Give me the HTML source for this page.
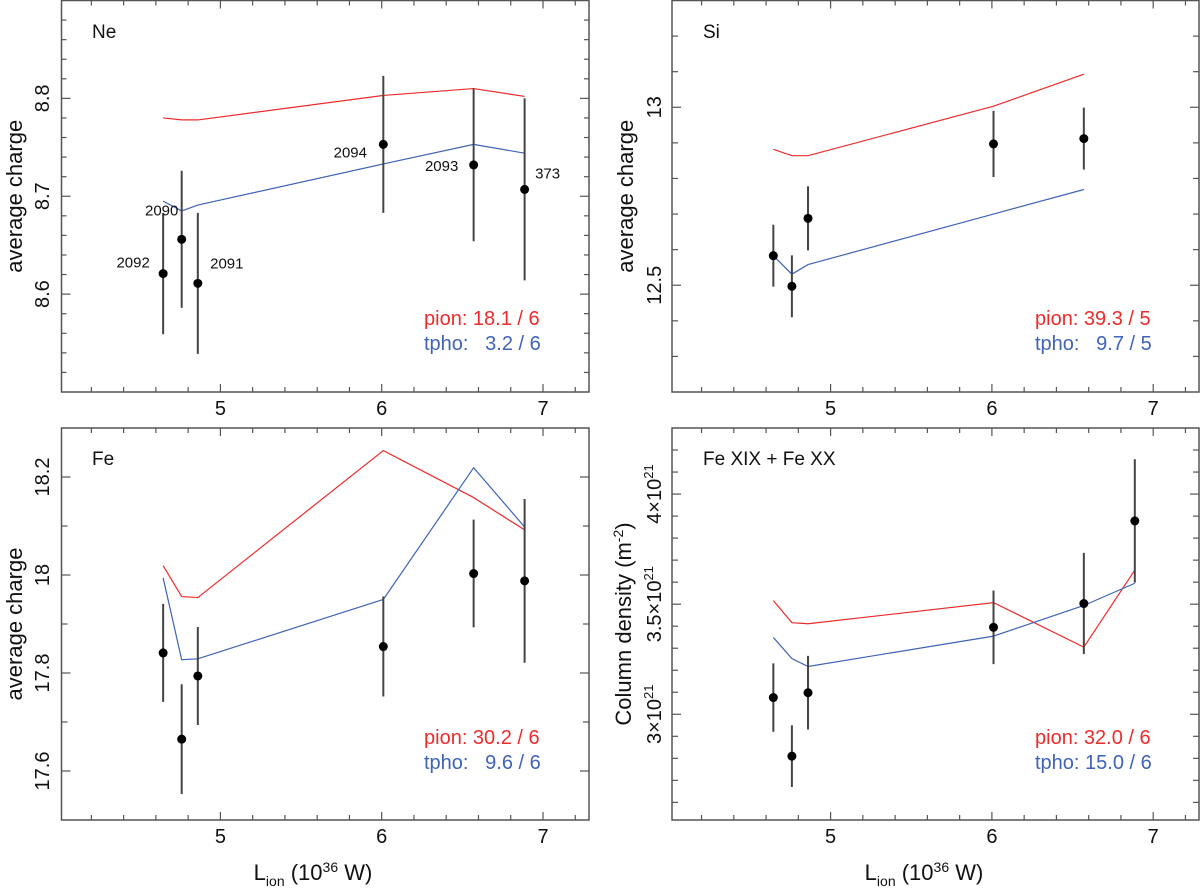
<!DOCTYPE html>
<html><head><meta charset="utf-8"><style>
html,body{margin:0;padding:0;background:#fff;width:1200px;height:891px;overflow:hidden}
svg{display:block;font-family:"Liberation Sans",Arial,sans-serif}
</style></head><body>
<svg id="chart" width="1200" height="891" viewBox="0 0 1200 891"></svg>
<script>
// Shared x data (luminosity, 1e36 W)
const xLum = [4.645, 4.76, 4.86, 6.01, 6.57, 6.886];
const xLumSi = [4.645, 4.76, 4.86, 6.01, 6.57];
const xTickLabels = ["5", "6", "7"];

// Ne
const neObs = [8.621, 8.656, 8.611, 8.753, 8.732, 8.707];
const neErr = [0.062, 0.07, 0.072, 0.07, 0.078, 0.093];
const nePion = [8.780, 8.778, 8.778, 8.803, 8.810, 8.802];
const neTpho = [8.695, 8.685, 8.691, 8.733, 8.753, 8.744];
const neObsIds = ["2092", "2090", "2091", "2094", "2093", "373"];
const neYTicks = ["8.6", "8.7", "8.8"];

// Si
const siObs = [12.583, 12.497, 12.688, 12.897, 12.912];
const siErr = [0.087, 0.087, 0.09, 0.093, 0.087];
const siPion = [12.882, 12.864, 12.864, 13.003, 13.093];
const siTpho = [12.583, 12.531, 12.558, 12.700, 12.769];
const siYTicks = ["12.5", "13"];

// Fe
const feObs = [17.841, 17.665, 17.794, 17.854, 18.003, 17.988];
const feErr = [0.1, 0.112, 0.1, 0.102, 0.11, 0.167];
const fePion = [18.019, 17.956, 17.954, 18.254, 18.158, 18.092];
const feTpho = [17.994, 17.827, 17.829, 17.950, 18.219, 18.098];
const feYTicks = ["17.6", "17.8", "18", "18.2"];

// Fe XIX + Fe XX column density (1e21 m^-2)
const colObs = [3.076, 2.810, 3.098, 3.395, 3.503, 3.878];
const colErr = [0.155, 0.14, 0.167, 0.167, 0.23, 0.28];
const colPion = [3.516, 3.416, 3.411, 3.507, 3.305, 3.655];
const colTpho = [3.349, 3.253, 3.217, 3.355, 3.494, 3.595];
const colYTicks = ["3", "3.5", "4"];

const NS = "http://www.w3.org/2000/svg";
const svg = document.getElementById("chart");
function mk(tag, attrs, parent) {
  const e = document.createElementNS(NS, tag);
  for (const k in attrs) e.setAttribute(k, attrs[k]);
  (parent || svg).appendChild(e);
  return e;
}

const panels = [
  {key:"ne", L:61.5, R:589, T:0.5, B:392, x5:220.4, ymin:8.5, ymax:8.9, minor:0.02, major:0.1,
   yt:neYTicks, xs:xLum, obs:neObs, err:neErr, pion:nePion, tpho:neTpho, title:"Ne", titleX:92, titleY:38,
   ylab:"average charge", ylabX:14, ytX:42, legY:[325,350], legX:424, p:"pion: 18.1 / 6", t:"tpho:   3.2 / 6", xlabel:false},
  {key:"si", L:672, R:1199, T:0.5, B:392, x5:830.6, ymin:12.2, ymax:13.3, minor:0.1, major:0.1,
   yt:siYTicks, xs:xLumSi, obs:siObs, err:siErr, pion:siPion, tpho:siTpho, title:"Si", titleX:703, titleY:38,
   ylab:"average charge", ylabX:25+600, ytX:654, legY:[325,350], legX:1035, p:"pion: 39.3 / 5", t:"tpho:   9.7 / 5", xlabel:false},
  {key:"fe", L:61.5, R:589, T:428, B:820, x5:220.4, ymin:17.5, ymax:18.3, minor:0.1, major:0.1,
   yt:feYTicks, xs:xLum, obs:feObs, err:feErr, pion:fePion, tpho:feTpho, title:"Fe", titleX:92, titleY:465,
   ylab:"average charge", ylabX:14, ytX:42, legY:[744,769], legX:424, p:"pion: 30.2 / 6", t:"tpho:   9.6 / 6", xlabel:true, xlabX:313},
  {key:"col", L:672, R:1199, T:428, B:820, x5:830.6, ymin:2.52, ymax:4.3, minor:0.1, major:0.1,
   yt:colYTicks, xs:xLum, obs:colObs, err:colErr, pion:colPion, tpho:colTpho, title:"Fe XIX + Fe XX", titleX:703, titleY:465,
   ylab:"Column density (m", ylabX:623, ytX:654, legY:[744,769], legX:1035, p:"pion: 32.0 / 6", t:"tpho: 15.0 / 6", xlabel:true, xlabX:924, sci:true}
];

panels.forEach(P => {
  const g = mk("g", {});
  
  
  const X = v => P.x5 + (v - 5) * 161.3;
  const Y = v => P.B - (v - P.ymin) / (P.ymax - P.ymin) * (P.B - P.T);
  const fr = mk("rect", {x:P.L, y:P.T, width:P.R-P.L, height:P.B-P.T, fill:"none", stroke:"#555", "stroke-width":1.5}, g);
  
  
  for (let i = 0; i <= 20; i++) {
    const v = 4.0 + i * 0.2;
    const px = X(v);
    if (px <= P.L + 1 || px >= P.R - 1) continue;
    const isMaj = Math.abs(v - Math.round(v)) < 1e-6;
    const len = isMaj ? 8 : 5;
    mk("line", {x1:px, x2:px, y1:P.B, y2:P.B-len, stroke:"#555", "stroke-width":1.2}, g);
    mk("line", {x1:px, x2:px, y1:P.T, y2:P.T+len, stroke:"#555", "stroke-width":1.2}, g);
  }
  xTickLabels.forEach(s => {
    const tx = mk("text", {x:X(+s), y:P.B+23, "font-size":20, "text-anchor":"middle", fill:"#111"}, g);
    tx.textContent = s;
    
    
  });
  const start = Math.ceil(P.ymin / P.minor - 1e-6) * P.minor;
  for (let v = start; v <= P.ymax + 1e-9; v += P.minor) {
    const py = Y(v);
    if (py <= P.T + 1 || py >= P.B - 1) continue;
    const isLab = P.yt.some(s => Math.abs(+s - v) < 1e-6);
    const len = isLab ? 9 : (P.minor < P.major ? 5 : 6);
    mk("line", {x1:P.L, x2:P.L+len, y1:py, y2:py, stroke:"#555", "stroke-width":1.2}, g);
    mk("line", {x1:P.R, x2:P.R-len, y1:py, y2:py, stroke:"#555", "stroke-width":1.2}, g);
  }
  P.yt.forEach(s => {
    const py = Y(+s);
    const tx = mk("text", {x:0, y:0, "font-size":20, "text-anchor":"middle", fill:"#111",
      transform:`translate(${P.ytX+7},${py}) rotate(-90)`}, g);
    if (P.sci) {
      tx.textContent = s + "×10";
      const sp = mk("tspan", {"font-size":13, dy:-8}, tx); sp.textContent = "21";
    } else tx.textContent = s;
    
    
  });
  const yl = mk("text", {x:0, y:0, "font-size":22, "text-anchor":"middle", fill:"#111",
    transform:`translate(${P.ylabX+8},${(P.T+P.B)/2}) rotate(-90)`}, g);
  yl.textContent = P.ylab;
  if (P.sci) { const s1 = mk("tspan", {"font-size":14, dy:-8}, yl); s1.textContent = "-2"; const s2 = mk("tspan", {dy:8}, yl); s2.textContent = ")"; }
  
  
  const ti = mk("text", {x:P.titleX, y:P.titleY, "font-size":19, fill:"#111"}, g);
  ti.textContent = P.title;
  
  
  const ptsP = P.xs.map((x,i) => X(x)+","+Y(P.pion[i])).join(" ");
  const lp = mk("polyline", {points:ptsP, fill:"none", stroke:"#ee2b2b", "stroke-width":1.2}, g);
  
  
  const ptsT = P.xs.map((x,i) => X(x)+","+Y(P.tpho[i])).join(" ");
  const lt = mk("polyline", {points:ptsT, fill:"none", stroke:"#3f63b8", "stroke-width":1.2}, g);
  
  
  P.xs.forEach((x,i) => {
    const eb = mk("line", {x1:X(x), x2:X(x), y1:Y(P.obs[i]-P.err[i]), y2:Y(P.obs[i]+P.err[i]), stroke:"#444", "stroke-width":2}, g);
    
    
    const c = mk("circle", {cx:X(x), cy:Y(P.obs[i]), r:4.5, fill:"#000"}, g);
    
    
  });
  const l1 = mk("text", {x:P.legX, y:P.legY[0], "font-size":20, fill:"#ee2b2b"}, g);
  l1.textContent = P.p; l1.style.whiteSpace = "pre";
  
  
  const l2 = mk("text", {x:P.legX, y:P.legY[1], "font-size":20, fill:"#3f63b8"}, g);
  l2.textContent = P.t; l2.style.whiteSpace = "pre";
  
  
  if (P.xlabel) {
    const xl = mk("text", {x:P.xlabX, y:880, "font-size":22, "text-anchor":"middle", fill:"#111"}, g);
    xl.textContent = "L";
    const a = mk("tspan", {"font-size":14, dy:6}, xl); a.textContent = "ion";
    const b = mk("tspan", {dy:-6}, xl); b.textContent = " (10";
    const c2 = mk("tspan", {"font-size":14, dy:-8}, xl); c2.textContent = "36";
    const d = mk("tspan", {dy:8}, xl); d.textContent = " W)";
    
    
  }
  if (P.key === "ne") {
    const off = [[-30,-6],[-20,-24],[29,-15],[-33,13],[-32,6],[23,-11]];
    neObsIds.forEach((s,i) => {
      const tx = mk("text", {x:X(P.xs[i])+off[i][0], y:Y(P.obs[i])+off[i][1], "font-size":15, "text-anchor":"middle", fill:"#111"}, g);
      tx.textContent = s;
      
      
    });
  }
});
</script>
</body></html>
